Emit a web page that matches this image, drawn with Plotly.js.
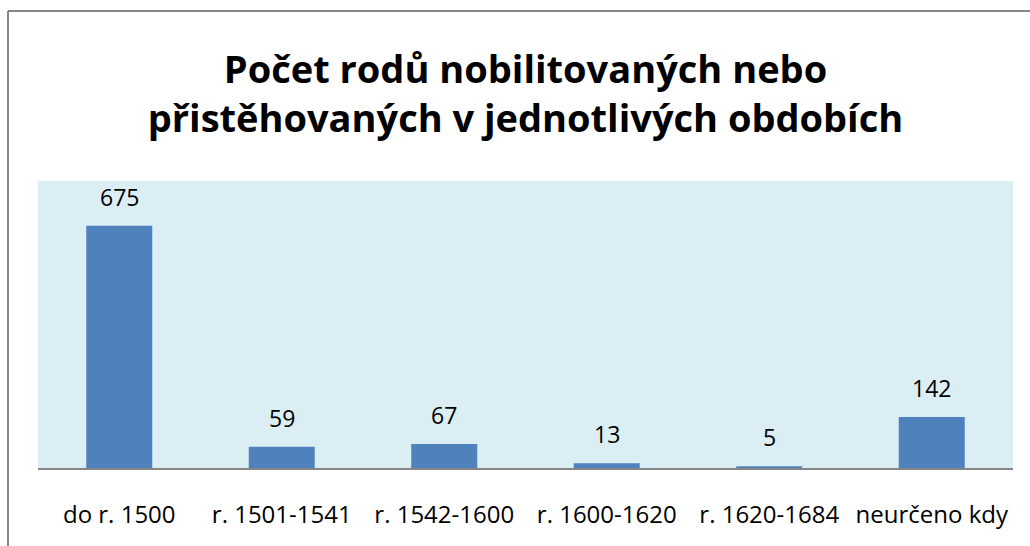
<!DOCTYPE html>
<html><head><meta charset="utf-8">
<script src="https://cdn.plot.ly/plotly-3.0.1.min.js"></script>
<style>html,body{margin:0;padding:0;background:#fff;}#chart{width:1030px;height:546px;}</style>
</head><body><div id="chart"></div>
<script>
const categories = ["do r. 1500", "r. 1501-1541", "r. 1542-1600", "r. 1600-1620", "r. 1620-1684", "neurčeno kdy"];
const counts = [675, 59, 67, 13, 5, 142];
const titleText = "Počet rodů nobilitovaných nebo<br>přistěhovaných v jednotlivých obdobích";

const W = 1030, H = 546;
const m = {l: 38, r: 17, t: 181, b: 78};
const pw = W - m.l - m.r, ph = H - m.t - m.b;
const px = v => (v - m.l) / pw;
const py = v => (H - m.b - v) / ph;
const frameColor = "#878787";

const labels = categories.map((c, i) => ({
  x: c, y: counts[i], xref: "x", yref: "y", text: String(counts[i]),
  showarrow: false, yanchor: "bottom", yshift: 11,
  font: {family: "Open Sans, sans-serif", size: 23, color: "#000"}
}));

Plotly.newPlot("chart", [{
  type: "bar", x: categories, y: counts,
  marker: {color: "#4F81BD", line: {width: 0}},
  hoverinfo: "none"
}], {
  width: W, height: H, margin: m,
  paper_bgcolor: "#ffffff", plot_bgcolor: "#DBEEF4",
  bargap: 0.594,
  showlegend: false,
  title: {text: titleText, x: 0.5, xanchor: "center", xref: "paper",
          y: 1 - 83 / H, yref: "container", yanchor: "middle",
          font: {family: "Open Sans, sans-serif", size: 38, color: "#000", weight: "bold"}},
  xaxis: {type: "category", showline: true, linecolor: "#868686", linewidth: 2,
          ticks: "", showgrid: false, zeroline: false, ticklabelstandoff: 24,
          tickfont: {family: "Open Sans, sans-serif", size: 24, color: "#000"}, fixedrange: true},
  yaxis: {range: [0, 800], showticklabels: false, showgrid: false, zeroline: false,
          showline: false, ticks: "", fixedrange: true},
  annotations: labels,
  shapes: [
    {type: "line", xref: "paper", yref: "paper", x0: px(8), x1: px(8), y0: py(H + 5), y1: py(11),
     line: {color: frameColor, width: 2}},
    {type: "line", xref: "paper", yref: "paper", x0: px(8), x1: px(W + 5), y0: py(11), y1: py(11),
     line: {color: frameColor, width: 2}}
  ]
}, {staticPlot: true, displayModeBar: false});
</script></body></html>
